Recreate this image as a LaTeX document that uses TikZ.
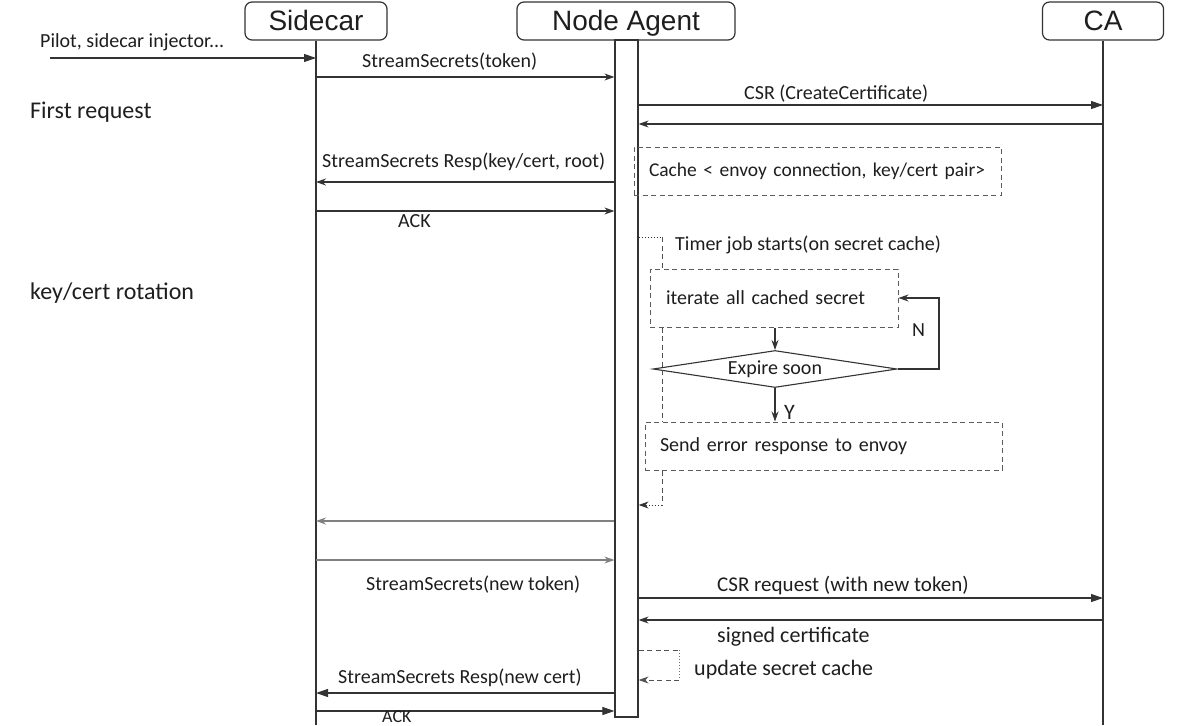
\documentclass[tikz,border=0pt]{standalone}
\usepackage{fontspec}
\setmainfont{Carlito}
\newfontfamily\headfont{Liberation Sans}
\usepackage{tikz}
\usetikzlibrary{positioning,arrows.meta,calc,shapes.geometric}
\definecolor{seqink}{HTML}{333333}
\definecolor{seqtext}{HTML}{1E1E1E}
\definecolor{seqgray}{HTML}{808080}

\begin{document}
\begin{tikzpicture}[
  x=1pt, y=-1pt,
  font=\fontsize{20}{24}\selectfont,
  >={Stealth[length=10pt,width=7pt]},
  actor/.style={draw=seqink, line width=1.2pt, rounded corners=7pt, minimum height=38pt,
    inner sep=0pt, text height=22pt, text depth=2pt, text=seqtext,
    font=\headfont\fontsize{28}{30}\selectfont},
  life/.style={seqink, line width=1.2pt},
  actbar/.style={draw=seqink, fill=white, line width=1.2pt, minimum width=23pt,
    minimum height=677pt, inner sep=0pt},
  msg/.style={->, seqink, line width=1.1pt},
  sync/.style={-{Triangle[length=12pt,width=8pt]}, seqink, line width=1.1pt},
  faint/.style={->, seqgray, line width=1.1pt},
  note/.style={draw=seqink!80, line width=1pt, dash pattern=on 5pt off 3.5pt,
    minimum height=48pt, inner xsep=15pt, inner ysep=0pt, align=left, text=seqtext},
  cond/.style={diamond, draw=seqink, line width=1.1pt, minimum width=244pt,
    minimum height=37pt, aspect=6.6, inner sep=0pt, text=seqtext},
  lbl/.style={anchor=west, inner sep=0pt, text=seqtext},
  side/.style={lbl, font=\fontsize{24}{28}\selectfont},
  big/.style={lbl, font=\fontsize{22}{26}\selectfont},
  loopline/.style={seqink!85, line width=1pt, dash pattern=on 5pt off 3.5pt},
]
\useasboundingbox (0,0) rectangle (1177,725);

% ---------------- participants
\node[actor, minimum width=142pt] (sc) at (316,21) {Sidecar};
\node[actor, minimum width=218pt] (na) at (626,21) {Node Agent};
\node[actor, minimum width=121pt] (ca) at (1103,21) {CA};

\coordinate (scEnd) at (316,725);
\coordinate (caEnd) at (1103,725);
\draw[life] (sc) -- (scEnd);
\draw[life] (ca) -- (caEnd);
\node[actbar] (bar) at (626.5,378.5) {};

% ---------------- message rows
\foreach \n/\y in {pilot/58, tok/77, csr/105, cert/124, resp/182, ack/211, timer/237,
                   back/505, err/521, retry/560, csrb/598, certb/620, upd/650, updb/680,
                   respb/693, ackb/711}
  \coordinate (r\n) at (0,\y);

% ---------------- first request
\coordinate (pilot) at (50,58);
\draw[sync] (pilot) -- (sc |- rpilot);
\node[lbl] (lpilot) at (40,42) {Pilot, sidecar injector...};

\draw[msg] (sc |- rtok) -- (bar.west |- rtok);
\node[lbl] (ltok) at (362,62) {StreamSecrets(token)};

\draw[sync] (bar.east |- rcsr) -- (ca |- rcsr);
\node[lbl] (lcsr) at (744,94) {CSR (CreateCertificate)};
\draw[msg] (ca |- rcert) -- (bar.east |- rcert);

\draw[msg] (bar.west |- rresp) -- (sc |- rresp);
\node[lbl] (lresp) at (322,162) {StreamSecrets Resp(key/cert, root)};
\node[note, text width=337pt, font=\fontsize{19.5}{24}\selectfont] (cache) at (817.5,171) {Cache < envoy connection, key/cert pair>};

\draw[msg] (sc |- rack) -- (bar.west |- rack);
\node[lbl] (lack) at (398,221) {ACK};

\node[side] (first) at (30,112) {First request};
\node[side] (rot) at (30,293) {key/cert rotation};

% ---------------- key/cert rotation
\coordinate (tj) at (662,237);
\node[lbl] (ltimer) at (675,245) {Timer job starts(on secret cache)};
\node[note, text width=216pt, inner xsep=16pt, minimum height=58pt] (iter) at (774,298) {iterate all cached secret};
\node[cond] (exp) at (775,369) {Expire soon};
\node[note, text width=327pt] (send) at (823.5,446) {Send error response to envoy};

\draw[seqink, line width=1pt, dotted] (bar.east |- tj) -- (tj);
\draw[loopline] (tj) -- (tj |- iter.north);
\draw[loopline] (tj |- iter.south) -- (tj |- send.north);
\draw[loopline] (tj |- send.south) -- (tj |- rback);
\draw[->, seqink, line width=1pt, dotted] (tj |- rback) -- (bar.east |- rback);

\draw[msg] (iter.south -| exp) -- (exp.north);
\draw[msg] (exp.south) -- (send.north -| exp);
\node[big] (ly) at (784,412) {Y};
\coordinate (nturn) at (939,369);
\draw[msg] (exp.east) -- (nturn) -- (nturn |- iter) -- (iter.east);
\node[big, font=\fontsize{20}{24}\selectfont] (ln) at (912,330) {N};

\draw[faint] (bar.west |- rerr) -- (sc |- rerr);
\draw[faint] (sc |- rretry) -- (bar.west |- rretry);
\node[lbl] (lretry) at (366,585) {StreamSecrets(new token)};

\draw[sync] (bar.east |- rcsrb) -- (ca |- rcsrb);
\node[big, font=\fontsize{21}{25}\selectfont] (lcsrb) at (717,586) {CSR request (with new token)};
\draw[msg] (ca |- rcertb) -- (bar.east |- rcertb);
\node[big] (lsigned) at (717,637) {signed certificate};

\coordinate (updturn) at (679,650);
\draw[loopline] (bar.east |- rupd) -- (updturn);
\draw[seqink!70, line width=1pt, dotted] (updturn) -- (updturn |- rupdb);
\draw[loopline, ->] (updturn |- rupdb) -- (bar.east |- rupdb);
\node[big] (lupd) at (694,670) {update secret cache};

\draw[sync] (bar.west |- rrespb) -- (sc |- rrespb);
\node[lbl] (lrespb) at (338,678) {StreamSecrets Resp(new cert)};
\draw[sync] (sc |- rackb) -- (bar.west |- rackb);
\node[lbl, font=\fontsize{18}{20}\selectfont] (lackb) at (382,717) {ACK};

\end{tikzpicture}
\end{document}
